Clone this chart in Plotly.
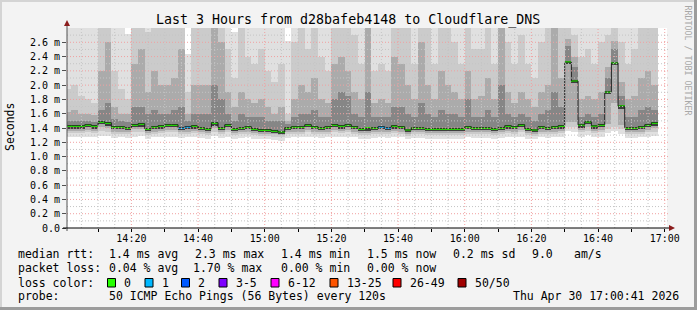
import plotly.graph_objects as go
import pandas as pd

# ---------------- data ----------------
TITLE = "Last 3 Hours from d28bafeb4148 to Cloudflare_DNS"
SAMPLE_START = "2026-04-30 14:00:00"     # first 120 s sample
STEP_S = 120
VIEW = ["2026-04-30 14:00:41", "2026-04-30 17:00:41"]

# median rtt per 120 s step (ms)
median = [1.432, 1.432, 1.432, 1.446, 1.432, 1.488, 1.474, 1.418, 1.418, 1.404,
          1.446, 1.460, 1.390, 1.418, 1.432, 1.446, 1.446, 1.404, 1.418, 1.432,
          1.404, 1.390, 1.474, 1.404, 1.446, 1.390, 1.404, 1.418, 1.390, 1.376,
          1.376, 1.362, 1.344, 1.404, 1.418, 1.418, 1.446, 1.418, 1.404, 1.418,
          1.446, 1.432, 1.446, 1.418, 1.390, 1.395, 1.404, 1.418, 1.404, 1.432,
          1.418, 1.372, 1.404, 1.404, 1.390, 1.390, 1.390, 1.390, 1.390, 1.390,
          1.418, 1.404, 1.404, 1.404, 1.390, 1.404, 1.432, 1.418, 1.446, 1.390,
          1.372, 1.418, 1.404, 1.418, 1.432, 2.322, 2.058, 1.444, 1.486, 1.430,
          1.446, 1.906, 2.311, 1.706, 1.404, 1.404, 1.418, 1.446, 1.474]

# loss class index per step (0 = 0 lost, 1 = 1 lost, ...)
loss = [0, 0, 0, 0, 0, 0, 0, 0, 0, 0,
        0, 0, 0, 0, 0, 0, 0, 1, 1, 0,
        0, 0, 0, 0, 0, 0, 0, 0, 0, 0,
        0, 0, 0, 0, 0, 0, 0, 0, 0, 0,
        0, 0, 0, 0, 0, 0, 0, 1, 1, 0,
        0, 0, 0, 0, 0, 0, 0, 0, 0, 0,
        0, 0, 0, 0, 0, 0, 0, 0, 0, 0,
        0, 0, 0, 0, 0, 0, 0, 0, 0, 0,
        0, 0, 0, 0, 0, 0, 0, 0, 0]

# ping distribution quantiles per step (ms)
p0 = [1.28, 1.27, 1.28, 1.28, 1.27, 1.29, 1.29, 1.26, 1.27, 1.26,
      1.28, 1.29, 1.25, 1.27, 1.28, 1.28, 1.28, 1.26, 1.27, 1.28,
      1.26, 1.25, 1.29, 1.26, 1.28, 1.25, 1.26, 1.27, 1.25, 1.24,
      1.24, 1.23, 1.22, 1.26, 1.27, 1.27, 1.28, 1.27, 1.26, 1.27,
      1.28, 1.28, 1.28, 1.27, 1.25, 1.25, 1.26, 1.27, 1.26, 1.28,
      1.27, 1.24, 1.26, 1.26, 1.25, 1.25, 1.25, 1.25, 1.25, 1.25,
      1.27, 1.26, 1.26, 1.26, 1.25, 1.26, 1.28, 1.27, 1.28, 1.25,
      1.24, 1.27, 1.26, 1.27, 1.28, 1.36, 1.35, 1.28, 1.30, 1.28,
      1.28, 1.33, 1.36, 1.32, 1.26, 1.26, 1.27, 1.28, 1.29]
p10 = [1.33, 1.33, 1.33, 1.34, 1.33, 1.36, 1.35, 1.32, 1.32, 1.31,
       1.34, 1.35, 1.30, 1.32, 1.33, 1.34, 1.34, 1.31, 1.32, 1.33,
       1.31, 1.30, 1.35, 1.31, 1.34, 1.30, 1.31, 1.32, 1.30, 1.29,
       1.29, 1.28, 1.27, 1.31, 1.32, 1.32, 1.34, 1.32, 1.31, 1.32,
       1.34, 1.33, 1.34, 1.32, 1.30, 1.30, 1.31, 1.32, 1.31, 1.33,
       1.32, 1.29, 1.31, 1.31, 1.30, 1.30, 1.30, 1.30, 1.30, 1.30,
       1.32, 1.31, 1.31, 1.31, 1.30, 1.31, 1.33, 1.32, 1.34, 1.30,
       1.29, 1.32, 1.31, 1.32, 1.33, 1.42, 1.42, 1.34, 1.36, 1.33,
       1.34, 1.38, 1.42, 1.38, 1.31, 1.31, 1.32, 1.34, 1.35]
p25 = [1.36, 1.36, 1.36, 1.37, 1.36, 1.41, 1.40, 1.35, 1.35, 1.34,
       1.38, 1.39, 1.33, 1.35, 1.36, 1.37, 1.37, 1.34, 1.35, 1.36,
       1.34, 1.33, 1.40, 1.34, 1.37, 1.33, 1.34, 1.35, 1.33, 1.32,
       1.32, 1.31, 1.30, 1.34, 1.35, 1.35, 1.37, 1.35, 1.34, 1.35,
       1.37, 1.36, 1.37, 1.35, 1.33, 1.33, 1.34, 1.35, 1.34, 1.36,
       1.35, 1.32, 1.34, 1.34, 1.33, 1.33, 1.33, 1.33, 1.33, 1.33,
       1.35, 1.34, 1.34, 1.34, 1.33, 1.34, 1.36, 1.35, 1.37, 1.33,
       1.32, 1.35, 1.34, 1.35, 1.36, 1.48, 1.48, 1.37, 1.41, 1.36,
       1.37, 1.45, 1.75, 1.44, 1.34, 1.34, 1.35, 1.37, 1.40]
p40 = [1.39, 1.39, 1.39, 1.41, 1.39, 1.45, 1.43, 1.38, 1.38, 1.37,
       1.41, 1.42, 1.36, 1.38, 1.39, 1.41, 1.41, 1.37, 1.38, 1.39,
       1.37, 1.36, 1.43, 1.37, 1.41, 1.36, 1.37, 1.38, 1.36, 1.35,
       1.35, 1.33, 1.32, 1.37, 1.38, 1.38, 1.41, 1.38, 1.37, 1.38,
       1.41, 1.39, 1.41, 1.38, 1.36, 1.36, 1.37, 1.38, 1.37, 1.39,
       1.38, 1.34, 1.37, 1.37, 1.36, 1.36, 1.36, 1.36, 1.36, 1.36,
       1.38, 1.37, 1.37, 1.37, 1.36, 1.37, 1.39, 1.38, 1.41, 1.36,
       1.34, 1.38, 1.37, 1.38, 1.39, 2.29, 2.03, 1.40, 1.45, 1.39,
       1.41, 1.87, 2.28, 1.67, 1.37, 1.37, 1.38, 1.41, 1.43]
p60 = [1.50, 1.50, 1.50, 1.50, 1.49, 1.65, 1.75, 1.52, 1.50, 1.48,
       1.70, 1.70, 1.60, 1.65, 1.60, 1.60, 1.65, 1.70, 1.50, 1.60,
       1.60, 1.60, 2.00, 1.80, 1.60, 1.50, 1.60, 1.55, 1.55, 1.55,
       1.50, 1.50, 1.50, 1.46, 1.55, 1.60, 1.60, 1.65, 1.55, 1.55,
       1.80, 1.90, 1.85, 1.60, 1.55, 1.90, 1.55, 1.55, 1.55, 1.70,
       1.70, 1.60, 1.55, 1.75, 1.60, 1.55, 1.65, 1.60, 1.60, 1.55,
       1.80, 1.55, 1.55, 1.65, 1.55, 2.00, 1.60, 1.55, 1.60, 1.55,
       1.50, 1.60, 1.65, 1.90, 1.70, 2.55, 2.25, 1.55, 1.60, 1.55,
       1.60, 2.10, 2.50, 1.85, 1.55, 1.55, 1.65, 1.70, 1.65]
p75 = [1.62, 1.65, 1.60, 1.60, 1.58, 2.20, 2.60, 1.70, 1.60, 1.60,
       2.30, 2.50, 1.90, 2.20, 2.00, 2.00, 2.10, 2.50, 1.60, 2.00,
       2.00, 2.00, 2.90, 2.60, 1.90, 1.70, 1.90, 1.80, 1.75, 1.80,
       1.70, 1.60, 1.70, 1.50, 1.80, 2.00, 1.90, 2.10, 1.80, 1.75,
       2.30, 2.40, 2.20, 1.90, 1.80, 2.90, 1.75, 1.80, 1.75, 2.40,
       2.30, 2.00, 1.80, 2.60, 2.00, 1.80, 2.20, 2.00, 1.90, 1.80,
       2.20, 1.80, 1.85, 2.10, 1.80, 2.90, 1.90, 1.75, 1.90, 1.80,
       1.70, 1.90, 2.00, 2.90, 2.10, 2.65, 2.40, 1.80, 1.85, 1.80,
       1.90, 2.25, 2.62, 2.05, 1.80, 1.85, 2.10, 2.20, 2.00]
p90 = [1.95, 2.00, 1.85, 1.80, 1.75, 3.20, 3.20, 2.20, 1.95, 1.80,
       3.20, 3.20, 2.75, 3.20, 2.90, 2.90, 2.90, 3.20, 1.90, 2.90,
       2.85, 2.90, 3.20, 3.20, 2.50, 2.10, 2.80, 2.40, 2.30, 2.50,
       2.20, 2.05, 2.30, 1.60, 2.60, 2.80, 2.50, 2.85, 2.40, 2.20,
       3.20, 3.20, 3.20, 2.70, 2.30, 3.20, 2.20, 2.30, 2.20, 3.20,
       3.20, 2.80, 2.30, 3.20, 2.80, 2.30, 2.90, 2.80, 2.60, 2.30,
       3.20, 2.50, 2.50, 2.90, 2.30, 3.20, 2.60, 2.30, 2.70, 2.30,
       2.10, 2.60, 2.80, 3.20, 2.90, 3.20, 2.70, 2.40, 2.50, 2.30,
       2.60, 2.70, 2.90, 2.60, 2.30, 2.50, 2.90, 3.20, 2.80]
p100 = [3.2, 3.2, 3.2, 3.2, 3.2, 3.2, 3.2, 3.2, 3.2, 2.71,
        3.2, 3.2, 3.2, 3.2, 3.2, 3.2, 3.2, 3.2, 2.43, 3.2,
        3.2, 3.2, 3.2, 3.2, 3.2, 2.75, 3.2, 3.2, 3.2, 3.2,
        3.2, 3.2, 3.2, 2.62, 3.2, 3.2, 3.2, 3.2, 3.2, 3.2,
        3.2, 3.2, 3.2, 3.2, 3.2, 3.2, 3.2, 3.2, 3.2, 3.2,
        3.2, 3.2, 3.2, 3.2, 3.2, 3.2, 3.2, 3.2, 3.2, 3.2,
        3.2, 3.2, 3.2, 3.2, 3.2, 3.2, 3.2, 3.2, 3.2, 3.2,
        3.2, 3.2, 3.2, 3.2, 3.2, 3.2, 3.2, 3.2, 3.2, 3.2,
        3.2, 3.2, 3.2, 3.2, 3.2, 3.2, 3.2, 3.2, 3.2]

loss_labels = ["0", "1", "2", "3-5", "6-12", "13-25", "26-49", "50/50"]
loss_colors = ["#26ff00", "#00b8ff", "#0059ff", "#7e00ff", "#ff00ff",
               "#ff5500", "#ff0000", "#a10000"]

y_tick_vals = [0.0, 0.2, 0.4, 0.6, 0.8, 1.0, 1.2, 1.4, 1.6, 1.8, 2.0, 2.2, 2.4, 2.6]
y_tick_text = ["0.0", "0.2 m", "0.4 m", "0.6 m", "0.8 m", "1.0 m", "1.2 m", "1.4 m",
               "1.6 m", "1.8 m", "2.0 m", "2.2 m", "2.4 m", "2.6 m"]
x_tick_text = ["14:20", "14:40", "15:00", "15:20", "15:40", "16:00", "16:20", "16:40", "17:00"]

rtt_stats = ["1.4 ms avg", "2.3 ms max", "1.4 ms min", "1.5 ms now", "0.2 ms sd", "9.0", "am/s"]
loss_stats = ["0.04 % avg", "1.70 % max", "0.00 % min", "0.00 % now"]
probe_text = "50 ICMP Echo Pings (56 Bytes) every 120s"
stamp_text = "Thu Apr 30 17:00:41 2026"

# ---------------- figure ----------------
W, H = 697, 310
L, R, T, B = 67, 667, 28, 228          # plot area in pixels
FONT = "DejaVu Sans Mono"


def fx(px):
    return (px - L) / (R - L)


def fy(py):
    return (B - py) / (B - T)


def nb(s):
    return s.replace(" ", "\u00a0")


t0 = pd.Timestamp(SAMPLE_START)
step = pd.Timedelta(seconds=STEP_S)
n = len(median)
centers = [t0 + step * k + step / 2 for k in range(n)]
edges = [t0 + step * k for k in range(n + 1)]
width_ms = STEP_S * 1000

fig = go.Figure()

bands = [(p0, p100, "#e0e0e0"), (p10, p90, "#cbcbcb"),
         (p25, p75, "#ababab"), (p40, p60, "#868686"), (p40, median, "#3e3e3e")]
for lo, hi, col in bands:
    fig.add_trace(go.Bar(x=centers, base=lo, y=[h - l for l, h in zip(lo, hi)],
                         width=width_ms, marker=dict(color=col, line=dict(width=0)),
                         hoverinfo="skip", showlegend=False))

# black median step line
fig.add_trace(go.Scatter(x=edges, y=median + [median[-1]], mode="lines",
                         line=dict(color="#202020", width=1, shape="hv"),
                         hoverinfo="skip", showlegend=False))

# coloured median by loss class
half = 0.014
for ci, col in enumerate(loss_colors):
    idx = [k for k in range(n) if loss[k] == ci]
    if not idx:
        continue
    fig.add_trace(go.Bar(x=[centers[k] for k in idx],
                         base=[median[k] - half for k in idx],
                         y=[2 * half] * len(idx), width=width_ms,
                         marker=dict(color=col, line=dict(width=0)),
                         hoverinfo="skip", showlegend=False))

shapes = []
# grid (drawn above the smoke like rrdtool)
grid_minor = "#c4c4c4"
grid_major = "#f0a0a0"
for t in pd.date_range("2026-04-30 14:05", "2026-04-30 17:00", freq="5min"):
    major = (t.minute % 20 == 0)
    shapes.append(dict(type="line", xref="x", yref="paper", x0=t, x1=t, y0=0, y1=1,
                       layer="above",
                       line=dict(color=grid_major if major else grid_minor, width=1,
                                 dash="1px,2px")))
for i in range(1, 28):
    v = i / 10
    major = (i % 2 == 0)
    shapes.append(dict(type="line", xref="paper", yref="y", x0=0, x1=fx(R + 3), y0=v, y1=v,
                       layer="above",
                       line=dict(color=grid_major if major else grid_minor, width=1,
                                 dash="1px,2px")))

# axes with arrows
shapes.append(dict(type="line", xref="paper", yref="paper", x0=fx(L), x1=fx(L),
                   y0=fy(B + 3), y1=fy(T - 4), layer="above",
                   line=dict(color="#505050", width=1)))
shapes.append(dict(type="line", xref="paper", yref="paper", x0=fx(L - 4), x1=fx(R + 3),
                   y0=fy(B), y1=fy(B), layer="above", line=dict(color="#000000", width=1)))
arrow = "#8b1c1c"
shapes.append(dict(type="path", xref="paper", yref="paper", layer="above",
                   path=f"M {fx(L-3)} {fy(T-2)} L {fx(L+3)} {fy(T-2)} L {fx(L)} {fy(T-8)} Z",
                   fillcolor=arrow, line=dict(width=0)))
shapes.append(dict(type="path", xref="paper", yref="paper", layer="above",
                   path=f"M {fx(R+2)} {fy(B-3)} L {fx(R+2)} {fy(B+3)} L {fx(R+8)} {fy(B)} Z",
                   fillcolor=arrow, line=dict(width=0)))

# outer frame
shapes.append(dict(type="rect", xref="paper", yref="paper", x0=fx(0), x1=fx(W), y0=fy(0), y1=fy(2),
                   fillcolor="#d4d4d4", line=dict(width=0)))
shapes.append(dict(type="rect", xref="paper", yref="paper", x0=fx(0), x1=fx(2), y0=fy(0), y1=fy(H),
                   fillcolor="#d4d4d4", line=dict(width=0)))
shapes.append(dict(type="rect", xref="paper", yref="paper", x0=fx(0), x1=fx(W), y0=fy(H - 3), y1=fy(H),
                   fillcolor="#9c9c9c", line=dict(width=0)))
shapes.append(dict(type="rect", xref="paper", yref="paper", x0=fx(W - 3), x1=fx(W), y0=fy(0), y1=fy(H),
                   fillcolor="#9c9c9c", line=dict(width=0)))

# legend boxes
lab_x = [122, 159.5, 196, 233.5, 285.5, 344.5, 407.5, 472.5]
for lx, col in zip(lab_x, loss_colors):
    bx = lx - 14.5
    shapes.append(dict(type="rect", xref="paper", yref="paper",
                       x0=fx(bx), x1=fx(bx + 8), y0=fy(278.5), y1=fy(287),
                       fillcolor=col, line=dict(color="#000000", width=1)))

ann = []


def text(x, y, s, size, anchor="left", angle=0, color="#000000", yanchor="middle"):
    ann.append(dict(x=fx(x), y=fy(y), xref="paper", yref="paper", text=nb(s),
                    showarrow=False, xanchor=anchor, yanchor=yanchor, textangle=angle,
                    font=dict(family=FONT, size=size, color=color)))


text(348, 19.5, TITLE, 13.3, anchor="center")
text(10, 127, "Seconds", 11.5, anchor="center", angle=-90)
text(687.5, 60, "RRDTOOL / TOBI OETIKER", 8.3, anchor="center", angle=90, color="#a8a8a8")

LS = 11.5
rtt_x = [106.5, 192.5, 278.5, 365, 451, 529.5, 572]
loss_x = [106.5, 191, 278.5, 364.5]
text(15.5, 254.3, "median rtt:", LS)
for x, s in zip(rtt_x, rtt_stats):
    text(x, 254.3, s, LS)
text(15.5, 268.3, "packet loss:", LS)
for x, s in zip(loss_x, loss_stats):
    text(x, 268.3, s, LS)
text(15.5, 282.5, "loss color:", LS)
for lx, lab in zip(lab_x, loss_labels):
    text(lx, 282.5, lab, LS)
text(15.5, 296, "probe:", LS)
text(106.5, 296, probe_text, LS)
text(681, 296, stamp_text, LS, anchor="right")

x_tick_vals = [pd.Timestamp("2026-04-30 " + s) for s in x_tick_text]

fig.update_layout(
    width=W, height=H,
    margin=dict(l=L, r=W - R, t=T, b=H - B, pad=0),
    paper_bgcolor="#f3f3f3", plot_bgcolor="#ffffff",
    barmode="overlay", bargap=0, showlegend=False,
    font=dict(family=FONT, size=10, color="#000000"),
    shapes=shapes, annotations=ann,
    xaxis=dict(type="date", range=VIEW, tickvals=x_tick_vals, ticktext=x_tick_text,
               ticks="outside", ticklen=3, tickcolor="#000000", showgrid=False,
               zeroline=False, showline=False, fixedrange=True, ticklabelstandoff=-2,
               tickfont=dict(family=FONT, size=10),
               minor=dict(dtick=600000, ticks="outside", ticklen=3, tickcolor="#000000",
                          showgrid=False)),
    yaxis=dict(range=[0, 2.8], tickvals=y_tick_vals, ticktext=y_tick_text,
               ticks="outside", ticklen=4, tickcolor="#505050", showgrid=False,
               zeroline=False, showline=False, fixedrange=True,
               tickfont=dict(family=FONT, size=10)),
)

fig.write_html("out.html")
